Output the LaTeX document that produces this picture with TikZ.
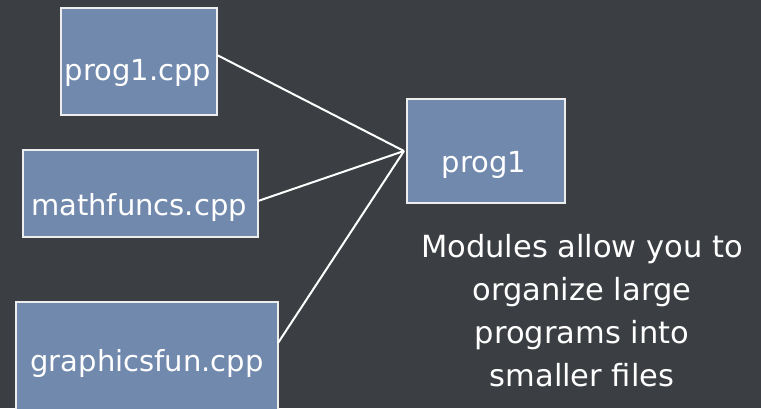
\documentclass[tikz,border=0pt]{standalone}
\usepackage{fontspec}
\setmainfont{DejaVu Sans}
\begin{document}
\begin{tikzpicture}[x=1pt,y=-1pt,
  filebox/.style={draw=chalk,line width=2pt,fill=slateblue,inner sep=0pt},
  label/.style={text=white,font=\fontsize{29}{43}\selectfont,anchor=base,inner sep=0pt},
  link/.style={draw=white,line width=2pt}]
\definecolor{boardgray}{HTML}{3B3E43}
\definecolor{slateblue}{HTML}{7189AD}
\definecolor{chalk}{HTML}{EDEDED}
\useasboundingbox (0,0) rectangle (761,408);
\clip (0,0) rectangle (761,408);
\fill[boardgray] (0,0) rectangle (761,408);
% source file boxes
\draw[filebox] (61,8) rectangle (217,115);
\draw[filebox] (23,150) rectangle (258,237);
\draw[filebox] (16,302) rectangle (278,420);
\draw[filebox] (407,99) rectangle (565,203);
\node[label] (p1) at (138,80) {prog1.cpp};
\node[label] (mf) at (139,215) {mathfuncs.cpp};
\node[label] (gf) at (147,371) {graphicsfun.cpp};
\node[label] (pr) at (484,172) {prog1};
% junction where the files meet
\coordinate (j) at (404,151);
\coordinate (a1) at (217,55);
\coordinate (a2) at (258,201);
\coordinate (a3) at (278,343);
\draw[link] (a1) -- (j);
\draw[link] (a2) -- (j);
\draw[link] (a3) -- (j);
\node[label,font=\fontsize{30.5}{43}\selectfont,align=center,anchor=north] (txt) at (582,234)
  {Modules allow you to\\organize large\\programs into\\smaller files};
\end{tikzpicture}
\end{document}
